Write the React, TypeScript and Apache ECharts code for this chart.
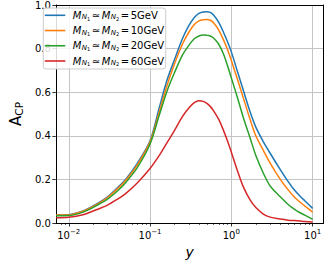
import React, { useEffect, useRef } from "react";
import * as echarts from "echarts";

// y values (x axis, log scale)
const yValues = [0.007, 0.01, 0.015, 0.02, 0.03, 0.04, 0.05, 0.07, 0.1, 0.13, 0.16, 0.2, 0.25, 0.3, 0.35, 0.4, 0.45, 0.5, 0.55, 0.6, 0.7, 0.8, 0.9, 1.0, 1.2, 1.4, 1.7, 2.0, 2.5, 3, 4, 5, 6, 7, 8, 10];

const acp5 = [0.037, 0.038, 0.055, 0.078, 0.12, 0.163, 0.2, 0.275, 0.377, 0.53, 0.65, 0.75, 0.845, 0.905, 0.943, 0.962, 0.968, 0.969, 0.966, 0.955, 0.92, 0.875, 0.83, 0.785, 0.69, 0.61, 0.51, 0.44, 0.37, 0.32, 0.245, 0.19, 0.15, 0.123, 0.102, 0.067];
const acp10 = [0.037, 0.037, 0.054, 0.076, 0.117, 0.158, 0.195, 0.268, 0.372, 0.51, 0.625, 0.73, 0.82, 0.875, 0.91, 0.927, 0.932, 0.933, 0.93, 0.92, 0.885, 0.84, 0.795, 0.745, 0.655, 0.575, 0.475, 0.40, 0.33, 0.275, 0.2, 0.152, 0.118, 0.095, 0.078, 0.05];
const acp20 = [0.033, 0.034, 0.05, 0.072, 0.11, 0.148, 0.185, 0.255, 0.362, 0.495, 0.6, 0.69, 0.77, 0.815, 0.845, 0.858, 0.862, 0.861, 0.858, 0.85, 0.82, 0.775, 0.72, 0.665, 0.57, 0.485, 0.39, 0.31, 0.225, 0.17, 0.12, 0.085, 0.062, 0.047, 0.036, 0.017];
const acp60 = [0.024, 0.026, 0.038, 0.055, 0.082, 0.11, 0.135, 0.185, 0.25, 0.31, 0.365, 0.425, 0.488, 0.528, 0.552, 0.561, 0.558, 0.549, 0.535, 0.517, 0.475, 0.425, 0.375, 0.325, 0.235, 0.167, 0.106, 0.071, 0.04, 0.027, 0.018, 0.013, 0.011, 0.009, 0.007, 0.005];

const masses = ["5", "10", "20", "60"];
const seriesValues = [acp5, acp10, acp20, acp60];
const colors = ["#1f77b4", "#ff7f0e", "#2ca02c", "#d62728"];

const xMajorTicks = [0.01, 0.1, 1, 10];
const xMinorTicks = [0.008, 0.009, 0.02, 0.03, 0.04, 0.05, 0.06, 0.07, 0.08, 0.09, 0.2, 0.3, 0.4, 0.5, 0.6, 0.7, 0.8, 0.9, 2, 3, 4, 5, 6, 7, 8, 9];
const xMin = 0.00693;
const xMax = 13.6;

const FONT = "DejaVu Sans";

export default function App() {
  const ref = useRef<HTMLDivElement>(null);
  useEffect(() => {
    if (!ref.current) return;
    const chart = echarts.init(ref.current, null, { renderer: "svg" });
    const lg = Math.log10;
    const names = masses.map((m) => `M_N1 ≃ M_N2 = ${m}GeV`);
    const frameAxis = {
      axisLine: { show: true, onZero: false, lineStyle: { color: "#000", width: 1 } },
      axisTick: { show: false },
      axisLabel: { show: false },
      splitLine: { show: false },
    };
    const option: any = {
      animation: false,
      backgroundColor: "#ffffff",
      textStyle: { fontFamily: FONT },
      grid: {
        left: 39,
        right: 5.5,
        top: 5,
        bottom: 43,
        show: false,
      },
      legend: {
        orient: "vertical",
        left: 43.3,
        top: 8,
        padding: [1.3, 1.5, 2, 1.5],
        icon: "rect",
        itemWidth: 20.5,
        itemHeight: 1.6,
        itemGap: 3.23,
        backgroundColor: "rgba(255,255,255,0.85)",
        borderColor: "#cccccc",
        borderWidth: 1,
        borderRadius: 3,
        data: names,
        formatter: (name: string) => {
          const i = names.indexOf(name);
          return `{m0|M}{n|N}{k|1}{r|≃}{m|M}{n|N}{k|2}{r|=}{t|${masses[i]}GeV}`;
        },
        textStyle: {
          fontFamily: FONT,
          fontSize: 10,
          color: "#000",
          lineHeight: 12,
          rich: {
            m0: { fontFamily: FONT, fontSize: 10, fontStyle: "italic", lineHeight: 12, color: "#000", padding: [0, 0, 0, 2.4] },
            m: { fontFamily: FONT, fontSize: 10, fontStyle: "italic", lineHeight: 12, color: "#000" },
            n: { fontFamily: FONT, fontSize: 7, fontStyle: "italic", padding: [4, 0, 0, 0.4], lineHeight: 12, color: "#000" },
            k: { fontFamily: FONT, fontSize: 5, padding: [7, 0, 0, 0], lineHeight: 12, color: "#000" },
            r: { fontFamily: FONT, fontSize: 10, lineHeight: 12, color: "#000", padding: [0, 1.6, 0, 1.6] },
            t: { fontFamily: FONT, fontSize: 10, lineHeight: 12, color: "#000" },
          },
        },
      },
      xAxis: [
        {
          type: "value",
          min: lg(xMin),
          max: lg(xMax),
          name: "y",
          nameLocation: "middle",
          nameGap: 22,
          nameTextStyle: { fontFamily: FONT, fontSize: 14, fontStyle: "italic", color: "#000" },
          axisLine: { show: true, onZero: false, lineStyle: { color: "#000", width: 1 } },
          axisTick: {
            show: true,
            length: 3.5,
            customValues: xMajorTicks.map(lg),
            lineStyle: { color: "#000", width: 0.8 },
          },
          axisLabel: {
            customValues: xMajorTicks.map(lg),
            margin: 5,
            formatter: (v: number) => {
              const e = Math.round(v);
              return `{b|10}{e|${e < 0 ? "−" + Math.abs(e) : e}}`;
            },
            rich: {
              b: { fontFamily: FONT, fontSize: 10, color: "#000" },
              e: { fontFamily: FONT, fontSize: 7, color: "#000", padding: [0, 0, 7, 0] },
            },
          },
          splitLine: { show: true, lineStyle: { color: "#c4c4c4", width: 1 } },
        },
        {
          type: "value",
          min: lg(xMin),
          max: lg(xMax),
          position: "bottom",
          axisLine: { show: false, onZero: false },
          axisLabel: { show: false },
          splitLine: { show: false },
          axisTick: {
            show: true,
            length: 2,
            customValues: xMinorTicks.map(lg),
            lineStyle: { color: "#000", width: 0.6 },
          },
        },
        { type: "value", min: 0, max: 1, position: "top", ...frameAxis },
      ],
      yAxis: [
        {
          type: "value",
          min: 0,
          max: 1,
          interval: 0.2,
          name: "{a|A}{c|CP}",
          nameLocation: "middle",
          nameGap: 25,
          nameRotate: 90,
          nameTextStyle: {
            rich: {
              a: { fontFamily: FONT, fontSize: 15, color: "#000" },
              c: { fontFamily: FONT, fontSize: 10.5, color: "#000", padding: [6, 0, 0, 0] },
            },
          },
          axisLine: { show: true, onZero: false, lineStyle: { color: "#000", width: 1 } },
          axisTick: { show: true, length: 3.5, lineStyle: { color: "#000", width: 0.8 } },
          axisLabel: {
            margin: 5,
            fontFamily: FONT,
            fontSize: 10,
            color: "#000",
            formatter: (v: number) => v.toFixed(1),
          },
          splitLine: { show: true, lineStyle: { color: "#c4c4c4", width: 1 } },
        },
        { type: "value", min: 0, max: 1, position: "right", ...frameAxis },
      ],
      series: seriesValues.map((vals, i) => ({
        name: names[i],
        type: "line",
        xAxisIndex: 0,
        yAxisIndex: 0,
        symbol: "none",
        smooth: 0.3,
        lineStyle: { color: colors[i], width: 1.5 },
        itemStyle: { color: colors[i] },
        data: yValues.map((x, j) => [lg(x), vals[j]]),
      })),
    };
    chart.setOption(option);
    return () => chart.dispose();
  }, []);
  return (
    <div
      ref={ref}
      style={{ position: "absolute", left: 0, top: 0, width: 329, height: 266 }}
    />
  );
}
